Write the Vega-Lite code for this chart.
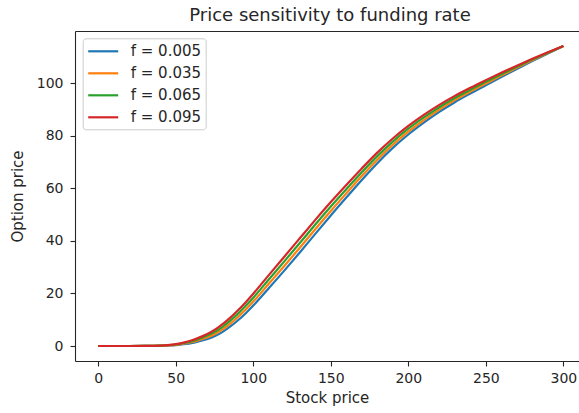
{
  "$schema": "https://vega.github.io/schema/vega-lite/v6.json",
  "width": 504,
  "height": 330,
  "autosize": {"type": "none"},
  "padding": {"left": 75, "top": 31, "right": 0, "bottom": 52},
  "background": "white",
  "title": {
    "text": "Price sensitivity to funding rate",
    "font": "DejaVu Sans",
    "fontSize": 18,
    "fontWeight": "normal",
    "color": "#262626",
    "anchor": "middle",
    "dx": 3,
    "offset": 6
  },
  "config": {
    "view": {"stroke": null},
    "axis": {
      "grid": false,
      "domainColor": "#262626",
      "domainWidth": 1.1,
      "tickColor": "#262626",
      "tickWidth": 1.1,
      "tickSize": 5,
      "labelFont": "DejaVu Sans",
      "labelFontSize": 14,
      "labelColor": "#262626",
      "titleFont": "DejaVu Sans",
      "titleFontSize": 15,
      "titleFontWeight": "normal",
      "titleColor": "#262626"
    }
  },
  "data": {
    "values": [
      {"S": 0, "f": "f = 0.005", "P": 0}, {"S": 10, "f": "f = 0.005", "P": 0}, {"S": 20, "f": "f = 0.005", "P": 0}, {"S": 30, "f": "f = 0.005", "P": 0.02},
      {"S": 40, "f": "f = 0.005", "P": 0.10}, {"S": 45, "f": "f = 0.005", "P": 0.20}, {"S": 50, "f": "f = 0.005", "P": 0.35}, {"S": 55, "f": "f = 0.005", "P": 0.70},
      {"S": 60, "f": "f = 0.005", "P": 1.10}, {"S": 65, "f": "f = 0.005", "P": 1.80}, {"S": 70, "f": "f = 0.005", "P": 2.60}, {"S": 75, "f": "f = 0.005", "P": 3.70},
      {"S": 80, "f": "f = 0.005", "P": 5.30}, {"S": 85, "f": "f = 0.005", "P": 7.35}, {"S": 90, "f": "f = 0.005", "P": 9.70}, {"S": 95, "f": "f = 0.005", "P": 12.40},
      {"S": 100, "f": "f = 0.005", "P": 15.40}, {"S": 110, "f": "f = 0.005", "P": 22.00}, {"S": 120, "f": "f = 0.005", "P": 28.70}, {"S": 130, "f": "f = 0.005", "P": 35.60},
      {"S": 140, "f": "f = 0.005", "P": 42.70}, {"S": 150, "f": "f = 0.005", "P": 49.70}, {"S": 160, "f": "f = 0.005", "P": 56.50}, {"S": 170, "f": "f = 0.005", "P": 63.20},
      {"S": 180, "f": "f = 0.005", "P": 69.60}, {"S": 190, "f": "f = 0.005", "P": 75.40}, {"S": 200, "f": "f = 0.005", "P": 80.50}, {"S": 210, "f": "f = 0.005", "P": 85.00},
      {"S": 220, "f": "f = 0.005", "P": 89.10}, {"S": 230, "f": "f = 0.005", "P": 92.80}, {"S": 240, "f": "f = 0.005", "P": 96.10}, {"S": 250, "f": "f = 0.005", "P": 99.25},
      {"S": 260, "f": "f = 0.005", "P": 102.40}, {"S": 270, "f": "f = 0.005", "P": 105.45}, {"S": 280, "f": "f = 0.005", "P": 108.45}, {"S": 290, "f": "f = 0.005", "P": 111.35},
      {"S": 300, "f": "f = 0.005", "P": 114.20},

      {"S": 0, "f": "f = 0.035", "P": 0}, {"S": 10, "f": "f = 0.035", "P": 0}, {"S": 20, "f": "f = 0.035", "P": 0}, {"S": 30, "f": "f = 0.035", "P": 0.02},
      {"S": 40, "f": "f = 0.035", "P": 0.12}, {"S": 45, "f": "f = 0.035", "P": 0.25}, {"S": 50, "f": "f = 0.035", "P": 0.47}, {"S": 55, "f": "f = 0.035", "P": 0.90},
      {"S": 60, "f": "f = 0.035", "P": 1.43}, {"S": 65, "f": "f = 0.035", "P": 2.27}, {"S": 70, "f": "f = 0.035", "P": 3.23}, {"S": 75, "f": "f = 0.035", "P": 4.50},
      {"S": 80, "f": "f = 0.035", "P": 6.27}, {"S": 85, "f": "f = 0.035", "P": 8.47}, {"S": 90, "f": "f = 0.035", "P": 10.97}, {"S": 95, "f": "f = 0.035", "P": 13.80},
      {"S": 100, "f": "f = 0.035", "P": 16.90}, {"S": 110, "f": "f = 0.035", "P": 23.67}, {"S": 120, "f": "f = 0.035", "P": 30.47}, {"S": 130, "f": "f = 0.035", "P": 37.40},
      {"S": 140, "f": "f = 0.035", "P": 44.47}, {"S": 150, "f": "f = 0.035", "P": 51.40}, {"S": 160, "f": "f = 0.035", "P": 58.10}, {"S": 170, "f": "f = 0.035", "P": 64.67},
      {"S": 180, "f": "f = 0.035", "P": 70.93}, {"S": 190, "f": "f = 0.035", "P": 76.60}, {"S": 200, "f": "f = 0.035", "P": 81.60}, {"S": 210, "f": "f = 0.035", "P": 86.00},
      {"S": 220, "f": "f = 0.035", "P": 90.00}, {"S": 230, "f": "f = 0.035", "P": 93.60}, {"S": 240, "f": "f = 0.035", "P": 96.83}, {"S": 250, "f": "f = 0.035", "P": 99.90},
      {"S": 260, "f": "f = 0.035", "P": 102.93}, {"S": 270, "f": "f = 0.035", "P": 105.87}, {"S": 280, "f": "f = 0.035", "P": 108.73}, {"S": 290, "f": "f = 0.035", "P": 111.50},
      {"S": 300, "f": "f = 0.035", "P": 114.20},

      {"S": 0, "f": "f = 0.065", "P": 0}, {"S": 10, "f": "f = 0.065", "P": 0}, {"S": 20, "f": "f = 0.065", "P": 0}, {"S": 30, "f": "f = 0.065", "P": 0.02},
      {"S": 40, "f": "f = 0.065", "P": 0.13}, {"S": 45, "f": "f = 0.065", "P": 0.30}, {"S": 50, "f": "f = 0.065", "P": 0.58}, {"S": 55, "f": "f = 0.065", "P": 1.10},
      {"S": 60, "f": "f = 0.065", "P": 1.77}, {"S": 65, "f": "f = 0.065", "P": 2.73}, {"S": 70, "f": "f = 0.065", "P": 3.87}, {"S": 75, "f": "f = 0.065", "P": 5.30},
      {"S": 80, "f": "f = 0.065", "P": 7.23}, {"S": 85, "f": "f = 0.065", "P": 9.58}, {"S": 90, "f": "f = 0.065", "P": 12.23}, {"S": 95, "f": "f = 0.065", "P": 15.20},
      {"S": 100, "f": "f = 0.065", "P": 18.40}, {"S": 110, "f": "f = 0.065", "P": 25.33}, {"S": 120, "f": "f = 0.065", "P": 32.23}, {"S": 130, "f": "f = 0.065", "P": 39.20},
      {"S": 140, "f": "f = 0.065", "P": 46.23}, {"S": 150, "f": "f = 0.065", "P": 53.10}, {"S": 160, "f": "f = 0.065", "P": 59.70}, {"S": 170, "f": "f = 0.065", "P": 66.13},
      {"S": 180, "f": "f = 0.065", "P": 72.27}, {"S": 190, "f": "f = 0.065", "P": 77.80}, {"S": 200, "f": "f = 0.065", "P": 82.70}, {"S": 210, "f": "f = 0.065", "P": 87.00},
      {"S": 220, "f": "f = 0.065", "P": 90.90}, {"S": 230, "f": "f = 0.065", "P": 94.40}, {"S": 240, "f": "f = 0.065", "P": 97.57}, {"S": 250, "f": "f = 0.065", "P": 100.55},
      {"S": 260, "f": "f = 0.065", "P": 103.47}, {"S": 270, "f": "f = 0.065", "P": 106.28}, {"S": 280, "f": "f = 0.065", "P": 109.02}, {"S": 290, "f": "f = 0.065", "P": 111.65},
      {"S": 300, "f": "f = 0.065", "P": 114.20},

      {"S": 0, "f": "f = 0.095", "P": 0}, {"S": 10, "f": "f = 0.095", "P": 0}, {"S": 20, "f": "f = 0.095", "P": 0}, {"S": 30, "f": "f = 0.095", "P": 0.02},
      {"S": 40, "f": "f = 0.095", "P": 0.15}, {"S": 45, "f": "f = 0.095", "P": 0.35}, {"S": 50, "f": "f = 0.095", "P": 0.70}, {"S": 55, "f": "f = 0.095", "P": 1.30},
      {"S": 60, "f": "f = 0.095", "P": 2.10}, {"S": 65, "f": "f = 0.095", "P": 3.20}, {"S": 70, "f": "f = 0.095", "P": 4.50}, {"S": 75, "f": "f = 0.095", "P": 6.10},
      {"S": 80, "f": "f = 0.095", "P": 8.20}, {"S": 85, "f": "f = 0.095", "P": 10.70}, {"S": 90, "f": "f = 0.095", "P": 13.50}, {"S": 95, "f": "f = 0.095", "P": 16.60},
      {"S": 100, "f": "f = 0.095", "P": 19.90}, {"S": 110, "f": "f = 0.095", "P": 27.00}, {"S": 120, "f": "f = 0.095", "P": 34.00}, {"S": 130, "f": "f = 0.095", "P": 41.00},
      {"S": 140, "f": "f = 0.095", "P": 48.00}, {"S": 150, "f": "f = 0.095", "P": 54.80}, {"S": 160, "f": "f = 0.095", "P": 61.30}, {"S": 170, "f": "f = 0.095", "P": 67.60},
      {"S": 180, "f": "f = 0.095", "P": 73.60}, {"S": 190, "f": "f = 0.095", "P": 79.00}, {"S": 200, "f": "f = 0.095", "P": 83.80}, {"S": 210, "f": "f = 0.095", "P": 88.00},
      {"S": 220, "f": "f = 0.095", "P": 91.80}, {"S": 230, "f": "f = 0.095", "P": 95.20}, {"S": 240, "f": "f = 0.095", "P": 98.30}, {"S": 250, "f": "f = 0.095", "P": 101.20},
      {"S": 260, "f": "f = 0.095", "P": 104.00}, {"S": 270, "f": "f = 0.095", "P": 106.70}, {"S": 280, "f": "f = 0.095", "P": 109.30}, {"S": 290, "f": "f = 0.095", "P": 111.80},
      {"S": 300, "f": "f = 0.095", "P": 114.20}
    ]
  },
  "layer": [
    {
      "mark": {"type": "line", "strokeWidth": 2.2, "interpolate": "monotone"},
      "encoding": {
        "x": {
          "field": "S",
          "type": "quantitative",
          "scale": {"domain": [-15, 310.1], "nice": false, "zero": false},
          "axis": {
            "orient": "bottom",
            "values": [0, 50, 100, 150, 200, 250, 300],
            "labelPadding": 5,
            "title": "Stock price",
            "titlePadding": 5
          }
        },
        "y": {
          "field": "P",
          "type": "quantitative",
          "scale": {"domain": [-5.7, 119.9], "nice": false, "zero": false},
          "axis": {
            "orient": "left",
            "values": [0, 20, 40, 60, 80, 100],
            "labelPadding": 7,
            "title": "Option price",
            "titlePadding": 11
          }
        },
        "color": {
          "field": "f",
          "type": "nominal",
          "scale": {
            "domain": ["f = 0.005", "f = 0.035", "f = 0.065", "f = 0.095"],
            "range": ["#1f77b4", "#ff7f0e", "#2ca02c", "#d62728"]
          },
          "legend": {
            "title": null,
            "orient": "none",
            "legendX": 7.7,
            "legendY": 7.3,
            "direction": "vertical",
            "fillColor": "rgba(255,255,255,0.8)",
            "strokeColor": "#cccccc",
            "cornerRadius": 3,
            "padding": 4,
            "symbolType": "M-1,0H3",
            "symbolSize": 225,
            "symbolStrokeWidth": 2.2,
            "labelFont": "DejaVu Sans",
            "labelFontSize": 15,
            "labelColor": "#262626",
            "labelOffset": 26,
            "rowPadding": 5
          }
        }
      }
    },
    {
      "mark": {"type": "point", "opacity": 0},
      "encoding": {
        "x": {
          "field": "S",
          "type": "quantitative",
          "scale": {"domain": [-15, 310.1], "nice": false, "zero": false},
          "axis": {"orient": "top", "labels": false, "ticks": false, "title": null, "domain": true}
        }
      }
    }
  ],
  "resolve": {"axis": {"x": "independent"}}
}
